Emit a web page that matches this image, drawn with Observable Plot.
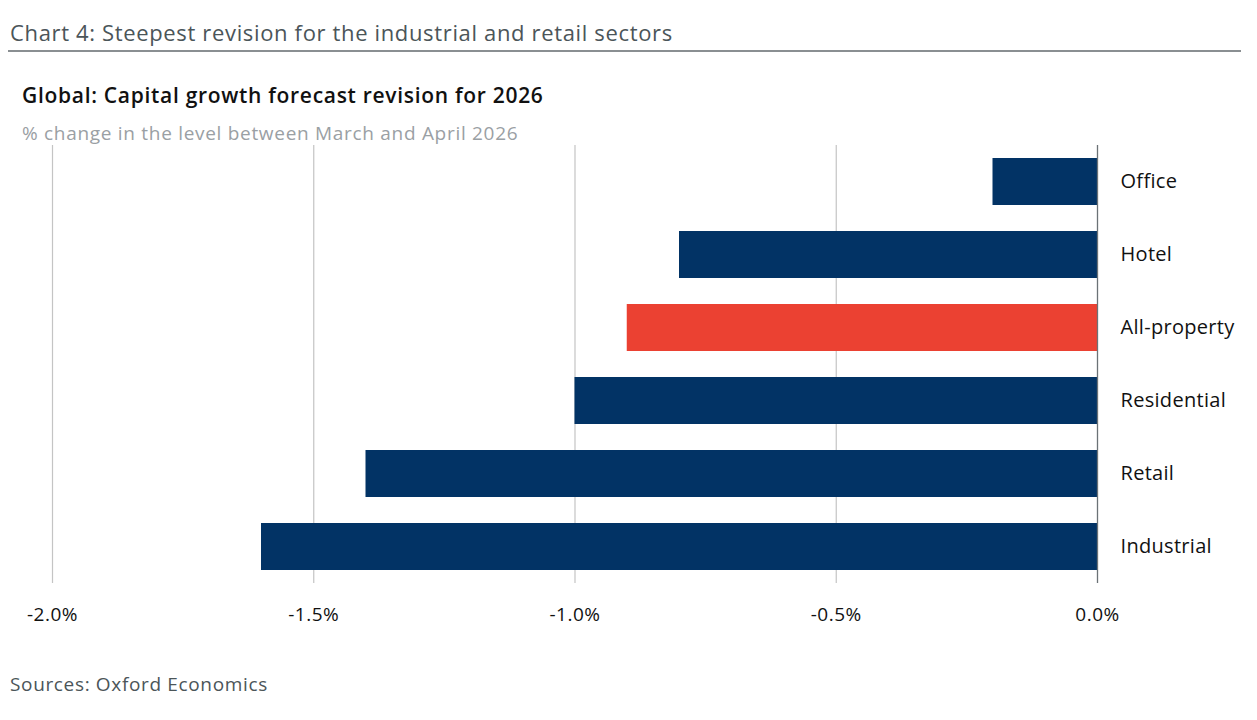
<!DOCTYPE html>
<html>
<head>
<meta charset="utf-8">
<script src="https://cdn.jsdelivr.net/npm/d3@7"></script>
<script src="https://cdn.jsdelivr.net/npm/@observablehq/plot@0.6"></script>
<style>
  html, body { margin: 0; padding: 0; background: #fff; }
  body { width: 1257px; height: 720px; position: relative; overflow: hidden; font-family: "Open Sans", "Noto Sans", sans-serif; }
  .t { position: absolute; white-space: nowrap; }
  #title { left: 10px; top: 17px; font-size: 22px; letter-spacing: 0.65px; color: #4b5559; font-weight: 500; }
  #rule { position: absolute; left: 8px; top: 50px; width: 1233px; height: 0; border-top: 2px solid #8a8f92; }
  #subtitle { left: 22px; top: 81px; font-size: 21px; letter-spacing: 0.7px; color: #111; font-weight: 600; }
  #sub2 { left: 22px; top: 120px; font-size: 19px; letter-spacing: 0.7px; color: #9aa0a4; }
  #source { left: 10px; top: 671px; font-size: 19px; letter-spacing: 0.65px; color: #4b5559; }
  #chart { position: absolute; left: 0; top: 140px; }
  #chart svg g[aria-label="y-axis tick label"] text { letter-spacing: 0.3px; }
  #chart svg g[aria-label="x-axis tick label"] text { letter-spacing: 0.5px; }
</style>
</head>
<body>
<div class="t" id="title">Chart 4: Steepest revision for the industrial and retail sectors</div>
<div id="rule"></div>
<div class="t" id="subtitle">Global: Capital growth forecast revision for 2026</div>
<div class="t" id="sub2">% change in the level between March and April 2026</div>
<div id="chart"></div>
<div class="t" id="source">Sources: Oxford Economics</div>
<script>
const categories = ["Office", "Hotel", "All-property", "Residential", "Retail", "Industrial"];
const values = [-0.2, -0.8, -0.9, -1.0, -1.4, -1.6];
const highlight = "All-property";
const xTicks = [-2.0, -1.5, -1.0, -0.5, 0.0];

const data = categories.map((c, i) => ({ category: c, value: values[i] }));

const chart = Plot.plot({
  width: 1257,
  height: 500,
  marginTop: 5,
  marginBottom: 57,
  marginLeft: 52,
  marginRight: 160,
  style: { fontFamily: '"Open Sans", "Noto Sans", sans-serif', background: "transparent" },
  x: { domain: [-2, 0], ticks: xTicks, tickFormat: d => d.toFixed(1) + "%", label: null },
  y: { domain: categories, paddingInner: 0.356, paddingOuter: 0.178, label: null },
  marks: [
    Plot.ruleX(xTicks.filter(d => d !== 0), { stroke: "#c4c4c4", strokeWidth: 1.2 }),
    Plot.barX(data, { x: "value", y: "category", fill: d => d.category === highlight ? "#eb4132" : "#023365" }),
    Plot.ruleX([0], { stroke: "#6b7276", strokeWidth: 1.3 }),
    Plot.axisX({ ticks: xTicks, tickFormat: d => d.toFixed(1) + "%", tickSize: 0, tickPadding: 24, fontSize: 19, fill: "#111", label: null }),
    Plot.axisY({ anchor: "right", tickSize: 0, tickPadding: 23, fontSize: 20, fill: "#111", label: null })
  ]
});
document.getElementById("chart").appendChild(chart);
</script>
</body>
</html>
